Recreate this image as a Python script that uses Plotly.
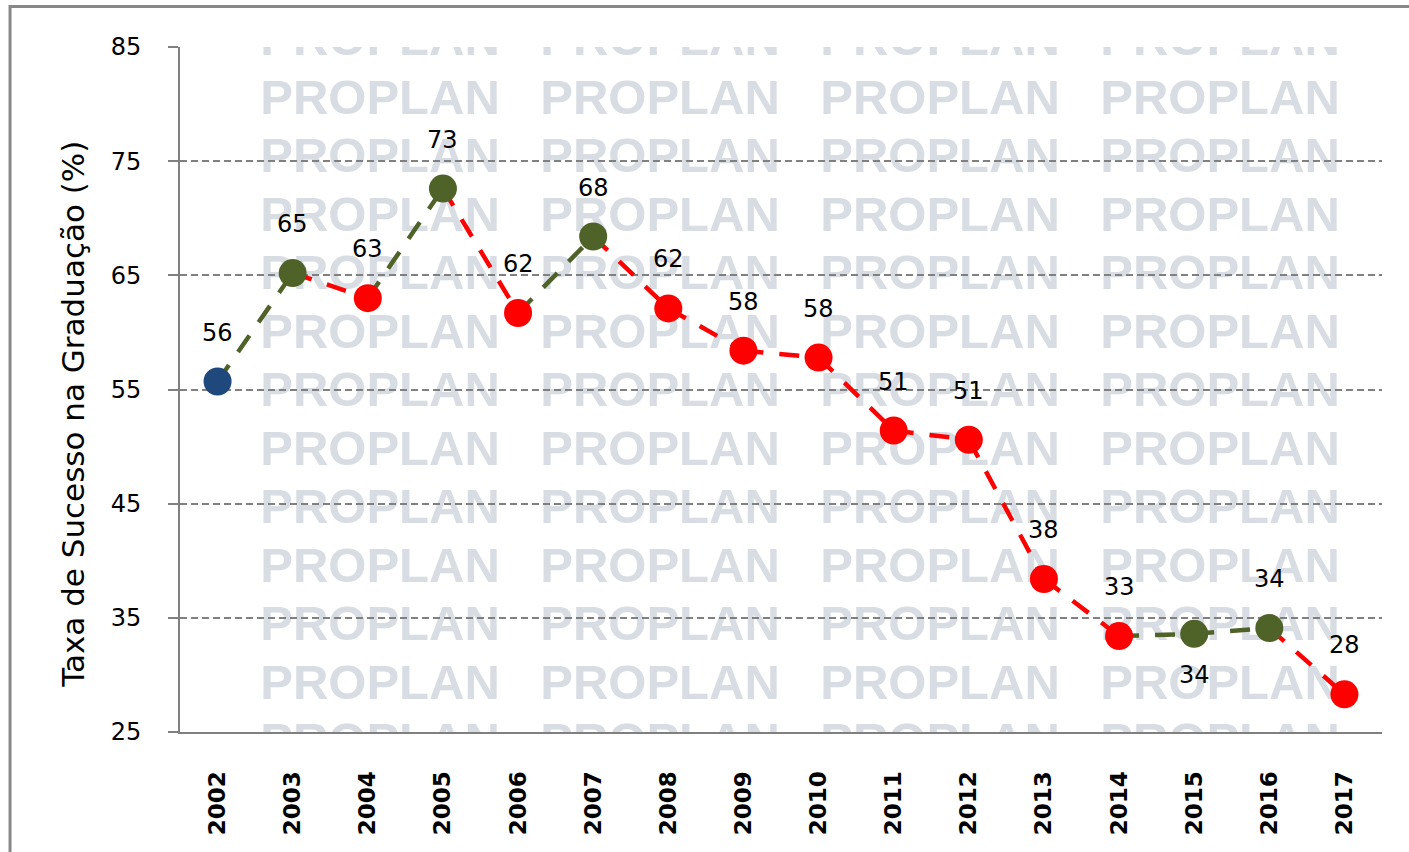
import base64
import plotly.graph_objects as go

# ---- data ----
years = list(range(2002, 2018))
rates = [55.7, 65.2, 63.0, 72.6, 61.7, 68.4, 62.1, 58.4, 57.8, 51.4, 50.6, 38.4, 33.4, 33.6, 34.1, 28.3]
labels = ["56", "65", "63", "73", "62", "68", "62", "58", "58", "51", "51", "38", "33", "34", "34", "28"]
y_ticks = [25, 35, 45, 55, 65, 75, 85]

# ---- styles ----
BLUE, GREEN, RED = "#1F497D", "#4F6228", "#FF0000"
point_colors = [BLUE, GREEN, RED, GREEN, RED, GREEN, RED, RED, RED, RED, RED, RED, RED, GREEN, GREEN, RED]
label_shift = [49] * len(years)
label_shift[13] = -41
GRID = "#808080"

fig = go.Figure()

# dashed segments, coloured by the end point
for i in range(1, len(years)):
    fig.add_trace(go.Scatter(
        x=[years[i - 1], years[i]], y=[rates[i - 1], rates[i]],
        mode="lines", line=dict(color=point_colors[i], width=4.5, dash="20px,16px"),
        hoverinfo="skip", showlegend=False))

fig.add_trace(go.Scatter(
    x=years, y=rates, mode="markers",
    marker=dict(color=point_colors, size=28, line=dict(width=0)),
    showlegend=False))

for x, y, t, s in zip(years, rates, labels, label_shift):
    fig.add_annotation(x=x, y=y, text=t, showarrow=False, yshift=s,
                       font=dict(family="DejaVu Sans", size=24, color="black"))

# watermark as an SVG image under the gridlines
W, H = 1202, 685
parts = []
for r in range(13):
    cy = -9.5 + 58.5 * r
    for c in range(4):
        cx = 200 + 280 * c
        parts.append(f'<text x="{cx}" y="{cy + 17.5:.1f}">PROPLAN</text>')
svg = (f'<svg xmlns="http://www.w3.org/2000/svg" width="{W}" height="{H}" viewBox="0 0 {W} {H}">'
       f'<g font-family="Liberation Sans, Arial, sans-serif" font-weight="bold" font-size="49" '
       f'fill="#D8DCE3" text-anchor="middle">' + "".join(parts) + '</g></svg>')
uri = "data:image/svg+xml;base64," + base64.b64encode(svg.encode()).decode()
fig.add_layout_image(source=uri, xref="paper", yref="paper", x=0, y=1, sizex=1, sizey=1,
                     xanchor="left", yanchor="top", sizing="stretch", layer="below")

# y title
fig.add_annotation(xref="paper", yref="paper", x=-0.089, y=0.463, textangle=-90,
                   text="Taxa de Sucesso na Graduação (%)", showarrow=False,
                   xanchor="center", yanchor="middle",
                   font=dict(family="DejaVu Sans", size=31, color="black"))

# outer border
fig.add_shape(type="rect", xref="paper", yref="paper", x0=-0.1414, x1=1.2, y0=-0.4, y1=1.0591,
              line=dict(color="#888888", width=3), fillcolor="rgba(0,0,0,0)")

fig.update_layout(
    width=1409, height=852,
    margin=dict(l=180, r=27, t=47, b=120),
    paper_bgcolor="white", plot_bgcolor="white",
    showlegend=False,
    xaxis=dict(range=[2001.5, 2017.5], tickvals=years, ticktext=[str(y) for y in years],
               showgrid=False, showline=True, linecolor=GRID, linewidth=2, zeroline=False,
               ticks="", tickangle=-90, ticklabelstandoff=28,
               tickfont=dict(family="DejaVu Sans", size=23, color="black", weight="bold")),
    yaxis=dict(range=[25, 85], tickvals=y_ticks, ticktext=[str(v) for v in y_ticks],
               showgrid=True, gridcolor=GRID, gridwidth=2, griddash="7px,4px",
               showline=True, linecolor=GRID, linewidth=2, zeroline=False,
               ticks="outside", ticklen=10, tickcolor=GRID, tickwidth=2, ticklabelstandoff=22,
               tickfont=dict(family="DejaVu Sans", size=24, color="black")),
)

fig.write_html("out.html", config={"displayModeBar": False},
               post_script="document.body.style.margin='0';document.body.style.overflow='hidden';")
